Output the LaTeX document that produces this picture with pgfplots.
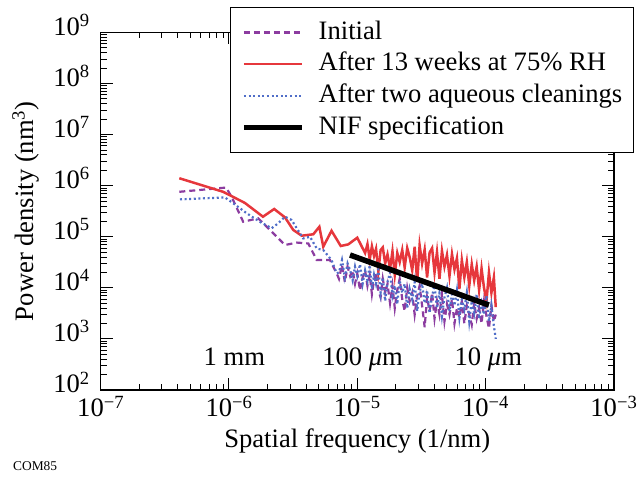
\documentclass[border=0pt]{standalone}
\usepackage{fontspec}
\setmainfont{Liberation Serif}
\usepackage{pgfplots}
\usepackage{pgfplotstable}
\pgfplotsset{compat=1.18}

\definecolor{initc}{HTML}{8C3CA0}
\definecolor{humc}{HTML}{E6373C}
\definecolor{cleanc}{HTML}{506EC8}
\newcommand{\figfont}{\fontsize{26.6bp}{32bp}\selectfont}

% Initial
\pgfplotstableread{
x y
4.1e-7 7.6e5
9.5e-7 9.2e5
1.05e-6 6.0e5
1.29e-6 1.97e5
1.69e-6 2.3e5
1.97e-6 1.57e5
2.73e-6 6.9e4
3.38e-6 7.7e4
4.15e-6 7.4e4
4.83e-6 3.5e4
6.12e-6 3.5e4
6.9e-6 1.93e4
7.2e-6 1.5e4
7.6e-6 2.8e4
8.0e-6 1.3e4
8.4e-6 2.6e4
8.8e-6 1.7e4
9.2e-6 2.2e4
9.6e-6 1.2e4
1.0e-5 1.9e4
1.05e-5 9.0e3
1.1e-5 1.6e4
1.15e-5 2.2e4
1.2e-5 1.1e4
1.25e-5 1.8e4
1.3e-5 7.5e3
1.35e-5 1.4e4
1.4e-5 2.0e4
1.46e-5 9.0e3
1.52e-5 6.5e3
1.58e-5 1.5e4
1.65e-5 8.0e3
1.72e-5 1.2e4
1.8e-5 5.0e3
1.88e-5 1.1e4
1.96e-5 4.0e3
2.05e-5 9.0e3
2.14e-5 1.5e4
2.24e-5 6.0e3
2.34e-5 3.5e3
2.45e-5 1.0e4
2.56e-5 5.5e3
2.68e-5 8.0e3
2.8e-5 3.0e3
2.93e-5 7.0e3
3.06e-5 1.1e4
3.2e-5 4.5e3
3.35e-5 1.7e3
3.5e-5 6.5e3
3.66e-5 3.5e3
3.83e-5 8.0e3
4.0e-5 2.5e3
4.18e-5 5.5e3
4.37e-5 3.0e3
4.57e-5 7.5e3
4.78e-5 2.2e3
5.0e-5 4.8e3
5.23e-5 3.0e3
5.47e-5 6.0e3
5.72e-5 2.0e3
5.98e-5 4.0e3
6.25e-5 2.6e3
6.53e-5 5.5e3
6.83e-5 2.0e3
7.14e-5 4.5e3
7.46e-5 3.0e3
7.8e-5 1.9e3
8.15e-5 5.0e3
8.52e-5 2.5e3
8.9e-5 4.0e3
9.3e-5 2.0e3
9.72e-5 5.5e3
1.016e-4 2.8e3
1.062e-4 1.6e3
1.11e-4 4.5e3
1.16e-4 2.2e3
1.2e-4 3.0e3
}\initial

% After 13 weeks at 75% RH
\pgfplotstableread{
x y
4.1e-7 1.40e6
9.0e-7 7.6e5
1.33e-6 4.6e5
1.84e-6 2.47e5
2.25e-6 3.5e5
2.73e-6 2.4e5
3.17e-6 1.36e5
3.69e-6 1.05e5
4.54e-6 1.12e5
5.06e-6 1.57e5
5.43e-6 6.4e4
6.3e-6 1.31e5
7.43e-6 6.6e4
8.5e-6 7.1e4
1.0e-5 9.6e4
1.15e-5 4.8e4
1.2e-5 7.2e4
1.25e-5 3.6e4
1.3e-5 6.5e4
1.35e-5 4.2e4
1.4e-5 5.8e4
1.46e-5 2.1e4
1.52e-5 5.5e4
1.58e-5 6.2e4
1.65e-5 3.0e4
1.72e-5 4.5e4
1.8e-5 2.4e4
1.88e-5 5.2e4
1.96e-5 1.8e4
2.05e-5 4.8e4
2.14e-5 3.2e4
2.24e-5 5.5e4
2.34e-5 2.5e4
2.45e-5 6.0e4
2.56e-5 4.0e4
2.68e-5 2.2e4
2.8e-5 6.4e4
2.93e-5 1.3e4
3.06e-5 6.8e4
3.2e-5 3.0e4
3.35e-5 5.6e4
3.5e-5 1.6e4
3.66e-5 4.9e4
3.83e-5 6.0e4
4.0e-5 2.0e4
4.18e-5 5.0e4
4.37e-5 1.5e4
4.57e-5 5.3e4
4.78e-5 2.6e4
5.0e-5 4.4e4
5.23e-5 1.7e4
5.47e-5 4.6e4
5.72e-5 2.3e4
5.98e-5 3.8e4
6.25e-5 9.5e3
6.53e-5 3.5e4
6.83e-5 1.6e4
7.14e-5 3.2e4
7.46e-5 1.1e4
7.8e-5 2.9e4
8.15e-5 1.4e4
8.52e-5 2.6e4
8.9e-5 9.0e3
9.3e-5 2.4e4
9.72e-5 1.0e4
1.016e-4 5.5e3
1.062e-4 2.0e4
1.11e-4 8.0e3
1.16e-4 1.6e4
1.2e-4 4.2e3
}\humid

% After two aqueous cleanings
\pgfplotstableread{
x y
4.15e-7 5.4e5
9.3e-7 5.9e5
1.07e-6 4.6e5
1.37e-6 2.9e5
1.75e-6 1.95e5
2.15e-6 1.47e5
2.42e-6 1.84e5
2.73e-6 2.47e5
3.08e-6 2.13e5
3.37e-6 1.47e5
3.79e-6 9.3e4
4.28e-6 1.0e5
4.83e-6 5.9e4
5.43e-6 5.5e4
6.3e-6 3.5e4
6.9e-6 1.93e4
7.2e-6 2.0e4
7.6e-6 3.5e4
8.0e-6 1.6e4
8.4e-6 3.0e4
8.8e-6 2.2e4
9.2e-6 1.4e4
9.6e-6 2.6e4
1.0e-5 1.7e4
1.05e-5 2.9e4
1.1e-5 1.2e4
1.15e-5 2.2e4
1.2e-5 1.4e4
1.25e-5 2.8e4
1.3e-5 9.5e3
1.35e-5 1.8e4
1.4e-5 1.2e4
1.46e-5 2.3e4
1.52e-5 8.0e3
1.58e-5 1.6e4
1.65e-5 5.5e3
1.72e-5 1.3e4
1.8e-5 2.0e4
1.88e-5 7.0e3
1.96e-5 1.1e4
2.05e-5 4.8e3
2.14e-5 1.4e4
2.24e-5 8.0e3
2.34e-5 1.2e4
2.45e-5 4.0e3
2.56e-5 9.5e3
2.68e-5 6.0e3
2.8e-5 1.3e4
2.93e-5 3.5e3
3.06e-5 8.5e3
3.2e-5 1.2e4
3.35e-5 5.0e3
3.5e-5 9.0e3
3.66e-5 3.2e3
3.83e-5 7.0e3
4.0e-5 1.1e4
4.18e-5 4.0e3
4.37e-5 8.0e3
4.57e-5 2.8e3
4.78e-5 6.5e3
5.0e-5 1.0e4
5.23e-5 3.5e3
5.47e-5 7.5e3
5.72e-5 4.5e3
5.98e-5 9.0e3
6.25e-5 2.6e3
6.53e-5 6.0e3
6.83e-5 3.8e3
7.14e-5 8.0e3
7.46e-5 2.2e3
7.8e-5 5.5e3
8.15e-5 3.2e3
8.52e-5 7.5e3
8.9e-5 2.5e3
9.3e-5 5.0e3
9.72e-5 3.0e3
1.016e-4 7.0e3
1.062e-4 2.2e3
1.11e-4 4.5e3
1.16e-4 1.8e3
1.2e-4 1.0e3
}\cleaned

% NIF specification
\pgfplotstableread{
x y
8.77e-6 4.4e4
1.06e-4 4.6e3
}\nif

\begin{document}
\begin{tikzpicture}
\useasboundingbox (0,0) rectangle (637bp,485bp);
\begin{axis}[
  at={(100.7bp,95bp)}, anchor=south west,
  scale only axis, width=513.2bp, height=357.5bp,
  xmode=log, ymode=log,
  xmin=1e-7, xmax=1e-3, ymin=1e2, ymax=1e9,
  xtick={1e-7,1e-6,1e-5,1e-4,1e-3},
  xticklabels={10\textsuperscript{−7},10\textsuperscript{−6},10\textsuperscript{−5},10\textsuperscript{−4},10\textsuperscript{−3}},
  ytick={1e2,1e3,1e4,1e5,1e6,1e7,1e8,1e9},
  yticklabels={10\textsuperscript{2},10\textsuperscript{3},10\textsuperscript{4},10\textsuperscript{5},10\textsuperscript{6},10\textsuperscript{7},10\textsuperscript{8},10\textsuperscript{9}},
  font=\figfont,
  tick align=inside,
  major tick length=12bp, minor tick length=6bp,
  axis line style={line width=1.2bp},
  every tick/.append style={line width=1bp, black},
  xticklabel style={anchor=base, yshift=-27bp, inner sep=0pt},
  yticklabel style={anchor=base east, xshift=-10.7bp, yshift=-3bp, inner sep=0pt},
  xlabel={Spatial frequency (1/nm)},
  ylabel={Power density (nm\textsuperscript{3})},
  xlabel style={at={(axis description cs:0.5,0)}, anchor=base, yshift=-58bp},
  ylabel style={at={(axis description cs:-0.146,0.5)}, anchor=center},
  legend cell align=left,
  legend image code/.code={\draw[#1] (0bp,0bp) -- (58bp,0bp);},
  legend style={at={(axis description cs:1.039,1.0713)}, anchor=north east,
    draw=black, line width=1.2bp, fill=white,
    inner xsep=11bp, inner ysep=12bp, row sep=6bp, column sep=14bp,
    font=\figfont,
    nodes={inner sep=0pt, text height=19.5bp, text depth=6.2bp}},
]
\addplot[initc, line width=2.2bp, dash pattern=on 6bp off 4bp] table {\initial};
\addlegendentry{Initial}
\addplot[humc, line width=2.5bp] table {\humid};
\addlegendentry{After 13 weeks at 75\% RH}
\addplot[cleanc, line width=2.2bp, dash pattern=on 2bp off 2.6bp] table {\cleaned};
\addlegendentry{After two aqueous cleanings}
\addplot[black, line width=5.5bp] table {\nif};
\addlegendentry{NIF specification}
\node[anchor=base] at (axis cs:1.1e-6,308) {1 mm};
\node[anchor=base] at (axis cs:1.1e-5,308) {100 \textit{μ}m};
\node[anchor=base] at (axis cs:1.05e-4,308) {10 \textit{μ}m};
\end{axis}
\node[anchor=base west, inner sep=0pt, font=\fontsize{13.4bp}{16bp}\selectfont] at (13bp,15bp) {COM85};
\end{tikzpicture}
\end{document}
